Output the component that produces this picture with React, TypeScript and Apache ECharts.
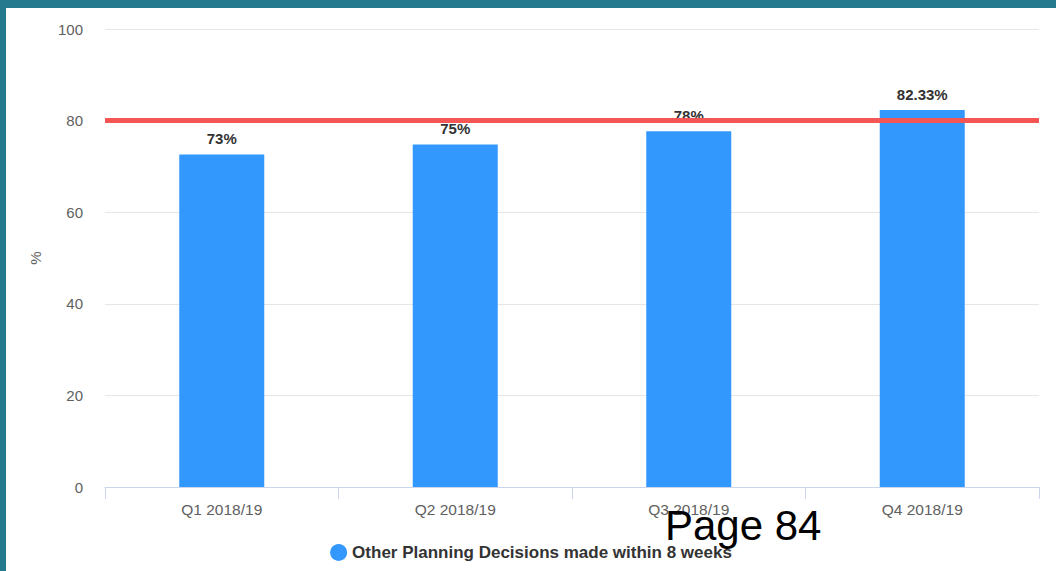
import React, { useEffect, useRef } from "react";
import * as echarts from "echarts";

const categories = ["Q1 2018/19", "Q2 2018/19", "Q3 2018/19", "Q4 2018/19"];
const values = [72.6, 74.8, 77.7, 82.33];
const labels = ["73%", "75%", "78%", "82.33%"];
const threshold = 80;
const seriesName = "Other Planning Decisions made within 8 weeks";
const yTicks = { min: 0, max: 100, interval: 20 };
const pageText = "Page 84";

export default function App() {
  const ref = useRef<HTMLDivElement>(null);
  useEffect(() => {
    document.body.style.margin = "0";
    const chart = echarts.init(ref.current!, null, { renderer: "svg" });
    const font = "Arial, 'Liberation Sans', sans-serif";
    chart.setOption({
      animation: false,
      backgroundColor: "#ffffff",
      textStyle: { fontFamily: font },
      grid: { left: 99, right: 17, top: 21, bottom: 84 },
      xAxis: {
        type: "category",
        data: categories,
        axisLine: { lineStyle: { color: "#ccd6eb", width: 1 } },
        axisTick: { show: true, length: 12, lineStyle: { color: "#ccd6eb" } },
        axisLabel: { color: "#606060", fontSize: 15.5, margin: 14, fontFamily: font },
      },
      yAxis: {
        type: "value",
        min: yTicks.min,
        max: yTicks.max,
        interval: yTicks.interval,
        name: "%",
        nameLocation: "middle",
        nameGap: 62,
        nameTextStyle: { color: "#606060", fontSize: 15, fontFamily: font },
        axisLine: { show: false },
        axisTick: { show: false },
        axisLabel: { color: "#606060", fontSize: 15, margin: 22, fontFamily: font },
        splitLine: { lineStyle: { color: "#e6e6e6", width: 1 } },
      },
      legend: {
        bottom: 5,
        left: "center",
        data: [seriesName],
        icon: "circle",
        itemWidth: 17,
        itemHeight: 17,
        itemGap: 8,
        textStyle: { color: "#333333", fontSize: 17, fontWeight: "bold", fontFamily: font },
      },
      series: [
        {
          name: seriesName,
          type: "bar",
          data: values,
          barWidth: 85,
          z: 2,
          itemStyle: { color: "#3398fe" },
          label: {
            show: true,
            position: "top",
            distance: 8,
            color: "#333333",
            fontSize: 15,
            fontWeight: "bold",
            fontFamily: font,
            formatter: (p: any) => labels[p.dataIndex],
          },
        },
        {
          name: "threshold",
          type: "line",
          data: [],
          z: 10,
          symbol: "none",
          markLine: {
            silent: true,
            symbol: ["none", "none"],
            label: { show: false },
            lineStyle: { color: "#f45656", width: 5, type: "solid" },
            data: [{ yAxis: threshold }],
          },
        },
      ],
      graphic: [
        {
          type: "text",
          left: 659,
          top: 496,
          z: 100,
          style: { text: pageText, fill: "#000000", fontSize: 42, fontFamily: font },
        },
      ],
    });
    return () => chart.dispose();
  }, []);
  return (
    <div style={{ width: 1056, height: 571, background: "#267a8e", position: "relative", overflow: "hidden" }}>
      <div
        ref={ref}
        style={{ position: "absolute", left: 6, top: 8, width: 1050, height: 563, background: "#ffffff" }}
      />
    </div>
  );
}
